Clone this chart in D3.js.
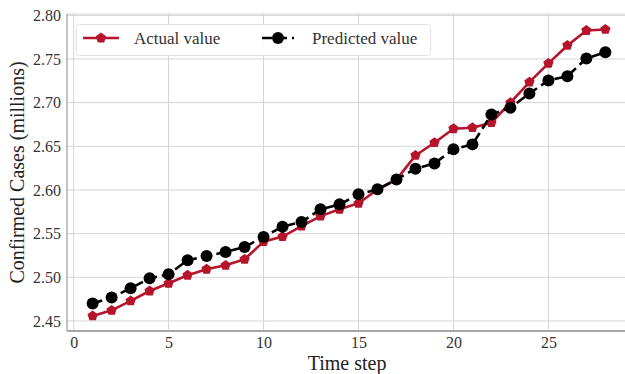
<!DOCTYPE html>
<html>
<head>
<meta charset="utf-8">
<script src="https://cdn.jsdelivr.net/npm/d3@7"></script>
<style>
  body { margin: 0; background: #fff; }
  svg text { font-family: "Liberation Serif", "Times New Roman", serif; }
</style>
</head>
<body>
<svg id="chart" width="625" height="374"></svg>
<script>
// values
var steps = d3.range(1, 29);
var actual = [2.4557, 2.4622, 2.4729, 2.4843, 2.4931, 2.5023, 2.5092, 2.5137, 2.5206, 2.5408,
              2.5466, 2.5587, 2.5701, 2.5778, 2.5847, 2.6005, 2.6118, 2.6396, 2.6541, 2.6701,
              2.6713, 2.6770, 2.6999, 2.7235, 2.7449, 2.7655, 2.7826, 2.7838];
var predicted = [2.4699, 2.4768, 2.4874, 2.4989, 2.5034, 2.5195, 2.5244, 2.5290, 2.5347, 2.5461,
                 2.5580, 2.5633, 2.5778, 2.5835, 2.5950, 2.6007, 2.6121, 2.6244, 2.6304, 2.6465,
                 2.6522, 2.6865, 2.6942, 2.7105, 2.7254, 2.7303, 2.7506, 2.7578];
var xTicks = [0, 5, 10, 15, 20, 25];
var yTicks = [2.45, 2.50, 2.55, 2.60, 2.65, 2.70, 2.75, 2.80];

var margin = {top: 14, left: 67, bottom: 43};
var width = 631 - margin.left;
var height = 374 - margin.top - margin.bottom;

var red = "#b5142b";

var svg = d3.select("#chart");
var g = svg.append("g")
  .attr("transform", "translate(" + margin.left + "," + margin.top + ")");

var x = d3.scaleLinear().domain([-0.35, 29.35]).range([0, width]);
var y = d3.scaleLinear().domain([2.4385, 2.8015]).range([height, 0]);

// grid
g.append("g").selectAll("line").data(xTicks).enter().append("line")
  .attr("x1", d => x(d)).attr("x2", d => x(d))
  .attr("y1", 0).attr("y2", height)
  .attr("stroke", "#d4d4d4").attr("stroke-width", 1);
g.append("g").selectAll("line").data(yTicks).enter().append("line")
  .attr("x1", 0).attr("x2", width)
  .attr("y1", d => y(d)).attr("y2", d => y(d))
  .attr("stroke", "#d4d4d4").attr("stroke-width", 1);

// spines
g.append("line").attr("x1", 0).attr("x2", width).attr("y1", 0).attr("y2", 0)
  .attr("stroke", "#d4d4d4");
g.append("line").attr("x1", 0).attr("x2", 0).attr("y1", 0).attr("y2", height)
  .attr("stroke", "#9a9a9a").attr("stroke-width", 1.2);
g.append("line").attr("x1", 0).attr("x2", width).attr("y1", height).attr("y2", height)
  .attr("stroke", "#a8a8a8").attr("stroke-width", 2);

// axes
var xAxis = g.append("g")
  .attr("transform", "translate(0," + height + ")")
  .call(d3.axisBottom(x).tickValues(xTicks).tickSize(0).tickPadding(6));
var yAxis = g.append("g")
  .call(d3.axisLeft(y).tickValues(yTicks).tickSize(0).tickPadding(6).tickFormat(d3.format(".2f")));
[xAxis, yAxis].forEach(function(a) {
  a.select(".domain").remove();
  a.selectAll("text")
    .style("font-family", "Liberation Serif, serif")
    .style("font-size", "16px")
    .attr("fill", "#333");
});

// lines
var lineA = d3.line().x((d, i) => x(steps[i])).y(d => y(d));

var pentagon = d3.symbol().type({
  draw: function(ctx, size) {
    var r = Math.sqrt(size / 2.378);
    for (var k = 0; k < 5; k++) {
      var a = -Math.PI / 2 + k * 2 * Math.PI / 5;
      if (k === 0) ctx.moveTo(r * Math.cos(a), r * Math.sin(a));
      else ctx.lineTo(r * Math.cos(a), r * Math.sin(a));
    }
    ctx.closePath();
  }
}).size(70);

g.append("path").datum(actual)
  .attr("fill", "none").attr("stroke", red).attr("stroke-width", 2.6)
  .attr("d", lineA);
g.append("g").selectAll("path").data(actual).enter().append("path")
  .attr("transform", (d, i) => "translate(" + x(steps[i]) + "," + y(d) + ")")
  .attr("d", pentagon).attr("fill", red);

g.append("path").datum(predicted)
  .attr("fill", "none").attr("stroke", "#000").attr("stroke-width", 2.6)
  .attr("stroke-dasharray", "10,5")
  .attr("d", lineA);
g.append("g").selectAll("circle").data(predicted).enter().append("circle")
  .attr("cx", (d, i) => x(steps[i])).attr("cy", d => y(d))
  .attr("r", 6).attr("fill", "#000");

// legend
var leg = svg.append("g");
leg.append("rect")
  .attr("x", 76.5).attr("y", 24.5).attr("width", 354).attr("height", 31).attr("rx", 3)
  .attr("fill", "#fff").attr("fill-opacity", 0.85)
  .attr("stroke", "#e2e2e2");
leg.append("line").attr("x1", 83).attr("x2", 119).attr("y1", 38).attr("y2", 38)
  .attr("stroke", red).attr("stroke-width", 2.6);
leg.append("path").attr("transform", "translate(101,38)").attr("d", pentagon).attr("fill", red);
leg.append("text").attr("x", 134).attr("y", 44).text("Actual value")
  .style("font-size", "17px").attr("fill", "#333");
leg.append("line").attr("x1", 262).attr("x2", 294).attr("y1", 38).attr("y2", 38)
  .attr("stroke", "#000").attr("stroke-width", 2.6).attr("stroke-dasharray", "10,5");
leg.append("circle").attr("cx", 278).attr("cy", 38).attr("r", 6).attr("fill", "#000");
leg.append("text").attr("x", 312).attr("y", 44).text("Predicted value")
  .style("font-size", "17px").attr("fill", "#333");

// axis titles
svg.append("text")
  .attr("x", margin.left + x(14.4)).attr("y", 370)
  .attr("text-anchor", "middle")
  .style("font-size", "20px").attr("fill", "#222")
  .text("Time step");
svg.append("text")
  .attr("transform", "translate(24," + (margin.top + height / 2) + ") rotate(-90)")
  .attr("text-anchor", "middle")
  .style("font-size", "20px").attr("fill", "#222")
  .text("Confirmed Cases (millions)");
</script>
</body>
</html>
